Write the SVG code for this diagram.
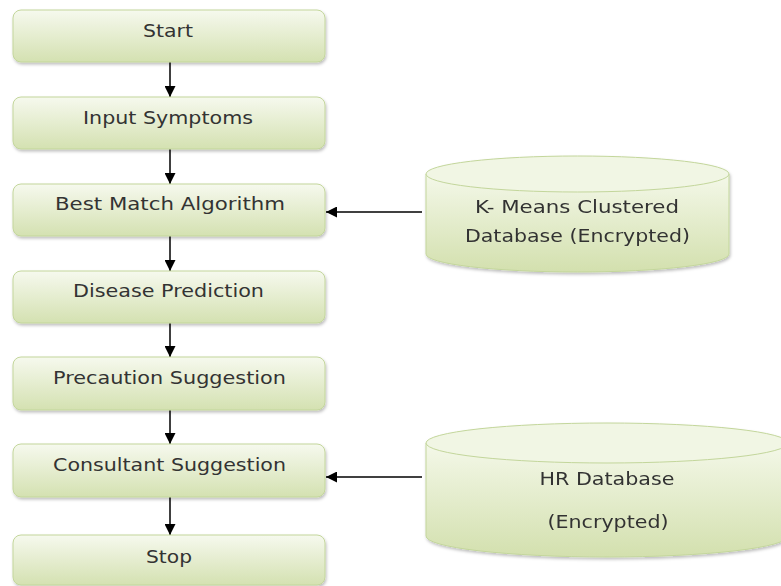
<svg xmlns="http://www.w3.org/2000/svg" width="781" height="586" viewBox="0 0 781 586">
<defs>
<linearGradient id="g" x1="0" y1="0" x2="0" y2="1">
<stop offset="0" stop-color="#f6f9ee"/>
<stop offset="1" stop-color="#d4e1b1"/>
</linearGradient>
<linearGradient id="gc" x1="0" y1="0" x2="0" y2="1">
<stop offset="0" stop-color="#f4f8e9"/>
<stop offset="1" stop-color="#d3e0ae"/>
</linearGradient>
<filter id="sh" x="-10%" y="-20%" width="120%" height="150%">
<feDropShadow dx="1" dy="2" stdDeviation="1.5" flood-color="#000" flood-opacity="0.25"/>
</filter>
<marker id="ah" markerWidth="11" markerHeight="11" viewBox="0 0 10 10" refX="10" refY="5" orient="auto" markerUnits="userSpaceOnUse">
<path d="M0,0 L10,5 L0,10 z" fill="#000"/>
</marker>
</defs>
<style>
.box{fill:url(#g);stroke:#c3d69b;stroke-width:1;filter:url(#sh)}
.cyl{fill:url(#gc);stroke:#c3d69b;stroke-width:1}
.top{fill:#f1f6e4;stroke:#c3d69b;stroke-width:1}
.t{font-family:"DejaVu Sans",Verdana,sans-serif;font-size:18px;fill:#333;text-anchor:middle}
.c{stroke:#000;stroke-width:1.5;fill:none;marker-end:url(#ah)}
</style>
<rect width="781" height="586" fill="#fff"/>
<g id="connectors">
<line class="c" x1="170" y1="62" x2="170" y2="97"/>
<line class="c" x1="170" y1="149" x2="170" y2="184"/>
<line class="c" x1="170" y1="236" x2="170" y2="271"/>
<line class="c" x1="170" y1="323" x2="170" y2="357"/>
<line class="c" x1="170" y1="410" x2="170" y2="444"/>
<line class="c" x1="170" y1="497" x2="170" y2="535"/>
<line class="c" x1="422" y1="212" x2="326" y2="212"/>
<line class="c" x1="422" y1="477" x2="326" y2="477"/>
</g>
<g id="start"><rect class="box" x="13" y="10" width="312" height="52" rx="8"/><text class="t" x="168" y="37" textLength="50" lengthAdjust="spacingAndGlyphs">Start</text></g>
<g id="input"><rect class="box" x="13" y="97" width="312" height="52" rx="8"/><text class="t" x="168" y="124" textLength="170" lengthAdjust="spacingAndGlyphs">Input Symptoms</text></g>
<g id="bestmatch"><rect class="box" x="13" y="184" width="312" height="52" rx="8"/><text class="t" x="170" y="210" textLength="230" lengthAdjust="spacingAndGlyphs">Best Match Algorithm</text></g>
<g id="disease"><rect class="box" x="13" y="271" width="312" height="52" rx="8"/><text class="t" x="168.5" y="297" textLength="191" lengthAdjust="spacingAndGlyphs">Disease Prediction</text></g>
<g id="precaution"><rect class="box" x="13" y="357" width="312" height="53" rx="8"/><text class="t" x="169.5" y="384" textLength="233" lengthAdjust="spacingAndGlyphs">Precaution Suggestion</text></g>
<g id="consultant"><rect class="box" x="13" y="444" width="312" height="53" rx="8"/><text class="t" x="169.5" y="471" textLength="233" lengthAdjust="spacingAndGlyphs">Consultant Suggestion</text></g>
<g id="stop"><rect class="box" x="13" y="535" width="312" height="50" rx="8"/><text class="t" x="169" y="563" textLength="46" lengthAdjust="spacingAndGlyphs">Stop</text></g>
<g id="kmeansdb" filter="url(#sh)">
<path class="cyl" d="M426,174 L426,254 A151.5,18 0 0 0 729,254 L729,174"/>
<ellipse class="top" cx="577.5" cy="174" rx="151.5" ry="18"/>
<text class="t" x="577" y="213" textLength="204" lengthAdjust="spacingAndGlyphs">K- Means Clustered</text>
<text class="t" x="577.5" y="242" textLength="225" lengthAdjust="spacingAndGlyphs">Database (Encrypted)</text>
</g>
<g id="hrdb" filter="url(#sh)">
<path class="cyl" d="M426,443 L426,536 A181,21 0 0 0 788,536 L788,443"/>
<ellipse class="top" cx="607" cy="443" rx="181" ry="20"/>
<text class="t" x="607" y="485" textLength="135" lengthAdjust="spacingAndGlyphs">HR Database</text>
<text class="t" x="608" y="528" textLength="121" lengthAdjust="spacingAndGlyphs">(Encrypted)</text>
</g>
</svg>
